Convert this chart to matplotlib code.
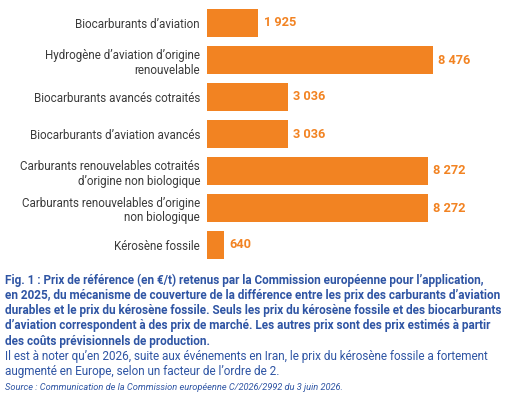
import matplotlib.pyplot as plt

# Data (prix de référence en €/t)
categories = [
    "Biocarburants d’aviation",
    "Hydrogène d’aviation d’origine\nrenouvelable",
    "Biocarburants avancés cotraités",
    "Biocarburants d’aviation avancés",
    "Carburants renouvelables cotraités\nd’origine non biologique",
    "Carburants renouvelables d’origine\nnon biologique",
    "Kérosène fossile",
]
values = [1925, 8476, 3036, 3036, 8272, 8272, 640]
value_labels = ["1 925", "8 476", "3 036", "3 036", "8 272", "8 272", "640"]

caption_bold = [
    "Fig. 1 : Prix de référence (en €/t) retenus par la Commission européenne pour l’application,",
    "en 2025, du mécanisme de couverture de la différence entre les prix des carburants d’aviation",
    "durables et le prix du kérosène fossile. Seuls les prix du kérosène fossile et des biocarburants",
    "d’aviation correspondent à des prix de marché. Les autres prix sont des prix estimés à partir",
    "des coûts prévisionnels de production.",
]
caption_regular = [
    "Il est à noter qu’en 2026, suite aux événements en Iran, le prix du kérosène fossile a fortement",
    "augmenté en Europe, selon un facteur de l’ordre de 2.",
]
source = "Source : Communication de la Commission européenne C/2026/2992 du 3 juin 2026."

orange = "#F28322"
blue = "#2F55A4"
grey = "#3a3a3a"

plt.rcParams['font.family'] = ['Roboto', 'DejaVu Sans']

fig = plt.figure(figsize=(5.06, 4.0), dpi=100)
ax = fig.add_axes([207 / 506, 1 - 263.5 / 400, (500 - 207) / 506, (263.5 - 4.5) / 400])

y = list(range(len(categories)))
ax.barh(y, values, height=0.76, color=orange)
ax.set_ylim(len(categories) - 0.5, -0.5)
ax.set_xlim(0, 293 / (226 / 8476))

for yi, v, lab in zip(y, values, value_labels):
    ax.text(v + 200, yi, lab, va='center', ha='left', color=orange,
            fontsize=9.2, fontweight='bold')

ax.set_yticks(y)
ax.set_yticklabels(categories, fontsize=8.4, color=grey, linespacing=1.2)
ax.tick_params(axis='y', length=0, pad=5)
ax.set_xticks([])
for s in ax.spines.values():
    s.set_visible(False)

# Caption
x0 = 5 / 506
ytop = 1 - 280 / 400
step = 15.3 / 400
for i, line in enumerate(caption_bold):
    fig.text(x0, ytop - i * step, line, fontsize=8.5, fontweight='bold',
             color=blue, va='center', ha='left')
n = len(caption_bold)
for i, line in enumerate(caption_regular):
    fig.text(x0, ytop - (n + i) * step, line, fontsize=8.5,
             color=blue, va='center', ha='left')
fig.text(x0, 1 - 388 / 400, source, fontsize=6.7, style='italic',
         color=blue, va='center', ha='left')

fig.savefig("out.png", dpi=100)
